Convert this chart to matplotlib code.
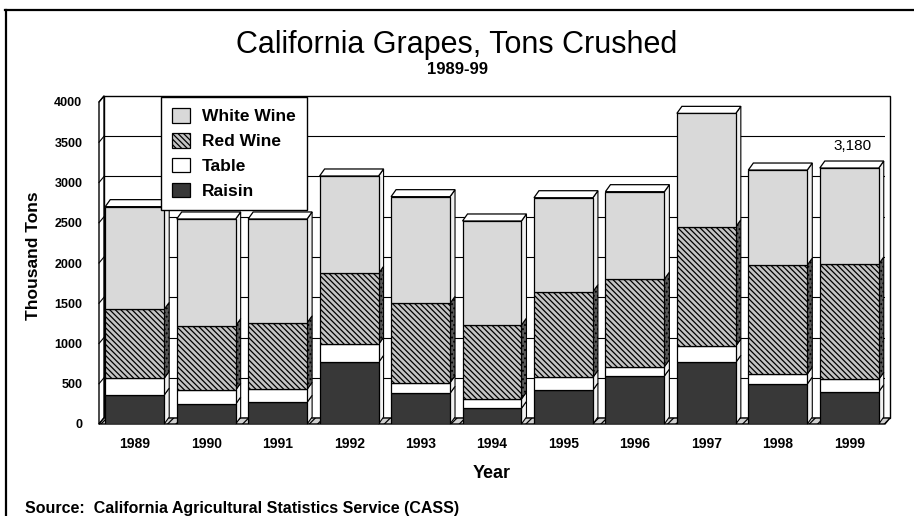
import matplotlib.pyplot as plt
import numpy as np
from matplotlib.patches import Polygon, Rectangle
from matplotlib.lines import Line2D

plt.rcParams['font.family'] = ['Liberation Sans', 'DejaVu Sans']
plt.rcParams['hatch.linewidth'] = 0.9

# data (thousand tons)
years = ['1989', '1990', '1991', '1992', '1993', '1994', '1995', '1996', '1997', '1998', '1999']
raisin = [360, 248, 270, 766, 381, 195, 422, 596, 766, 497, 401]
table = [208, 174, 161, 224, 132, 116, 158, 116, 203, 124, 154]
red_wine = [857, 799, 827, 882, 986, 919, 1064, 1089, 1482, 1354, 1433]
white_wine = [1275, 1326, 1289, 1209, 1325, 1292, 1167, 1085, 1408, 1180, 1192]
y_ticks = [0, 500, 1000, 1500, 2000, 2500, 3000, 3500, 4000]
series_names = ['Raisin', 'Table', 'Red Wine', 'White Wine']

W, H = 914, 516
fig = plt.figure(figsize=(W / 100, H / 100), dpi=100)
ax_l, ax_b, ax_w, ax_h = 99, 516 - 424, 786, 322
ax = fig.add_axes([ax_l / W, ax_b / H, ax_w / W, ax_h / H])
ax.set_xlim(-0.5, 10.5)
ax.set_ylim(0, 4000)

# 3d depth, pixels -> data units
ddx = 5 / (ax_w / 11)
ddy = 7 / (ax_h / 4000)
wdy = 6 / (ax_h / 4000)

x = np.arange(len(years))
bw = 0.825

# back wall, left wall, floor
ax.add_patch(Rectangle((-0.5 + ddx, wdy), 11, 4000, fc='white', ec='black', lw=1, zorder=0, clip_on=False))
ax.hlines(np.array(y_ticks[1:-1]) + wdy, -0.5 + ddx, 10.5 + ddx, color='black', lw=0.8, zorder=0.5)
ax.add_patch(Polygon([(-0.5, 0), (-0.5 + ddx, wdy), (-0.5 + ddx, 4000 + wdy), (-0.5, 4000)],
                     fc='white', ec='black', lw=1, zorder=0.6, clip_on=False))
for yt in y_ticks:
    ax.plot([-0.5, -0.5 + ddx], [yt, yt + wdy], color='black', lw=0.8, zorder=0.7, clip_on=False)
ax.add_patch(Polygon([(-0.5, 0), (10.5, 0), (10.5 + ddx, wdy), (-0.5 + ddx, wdy)],
                     fc='#cfcfcf', ec='black', lw=1, hatch='////', zorder=0.8, clip_on=False))

styles = {
    'Raisin': dict(fc='#383838', side='#f2f2f2', hatch=None),
    'Table': dict(fc='white', side='#f2f2f2', hatch=None),
    'Red Wine': dict(fc='#c4c4c4', side='#5a5a5a', hatch='\\\\\\\\\\\\'),
    'White Wine': dict(fc='#d9d9d9', side='#f0f0f0', hatch=None),
}

handles = {}
bottom = np.zeros(len(years))
for name, vals in zip(series_names, [raisin, table, red_wine, white_wine]):
    vals = np.array(vals, dtype=float)
    st = styles[name]
    bars = ax.bar(x, vals, bw, bottom=bottom, color=st['fc'], edgecolor='black', lw=0.9,
                  hatch=st['hatch'], zorder=3, label=name)
    handles[name] = bars
    for xi, b, v in zip(x, bottom, vals):
        xr = xi + bw / 2
        ax.add_patch(Polygon([(xr, b), (xr + ddx, b + ddy), (xr + ddx, b + v + ddy), (xr, b + v)],
                             fc=st['side'], ec='black', lw=0.8, zorder=2.5,
                             hatch='....' if st['hatch'] else None, clip_on=False))
    bottom = bottom + vals

# top faces
for xi, t in zip(x, bottom):
    xl, xr = xi - bw / 2, xi + bw / 2
    ax.add_patch(Polygon([(xl, t), (xl + ddx, t + ddy), (xr + ddx, t + ddy), (xr, t)],
                         fc='white', ec='black', lw=0.9, zorder=3.5, clip_on=False))

ax.annotate('3,180', xy=(x[-1], bottom[-1]), xytext=(2, 16), textcoords='offset points',
            ha='center', va='center', fontsize=11)

for s in ax.spines.values():
    s.set_visible(False)
ax.set_facecolor('none')
ax.set_yticks(y_ticks)
ax.set_yticklabels([str(v) for v in y_ticks], fontsize=9, fontweight='bold')
ax.set_xticks(x)
ax.set_xticklabels(years, fontsize=10, fontweight='bold')
ax.tick_params(axis='y', length=0, pad=12)
ax.tick_params(axis='x', length=0, pad=9)

fig.text(33 / W, 1 - 256 / H, 'Thousand Tons', ha='center', va='center', rotation=90,
         fontsize=12.5, fontweight='bold')
fig.text(492 / W, 1 - 473 / H, 'Year', ha='center', va='center', fontsize=13, fontweight='bold')

fig.text(457 / W, 1 - 45 / H, 'California Grapes, Tons Crushed', ha='center', va='center', fontsize=22)
fig.text(457 / W, 1 - 70 / H, '1989-99', ha='center', va='center', fontsize=12, fontweight='bold')
fig.text(25 / W, 3 / H, 'Source:  California Agricultural Statistics Service (CASS)',
         ha='left', va='baseline', fontsize=11.5, fontweight='bold')

order = ['White Wine', 'Red Wine', 'Table', 'Raisin']
leg = fig.legend([handles[n] for n in order], order, loc='upper left',
                 bbox_to_anchor=(161 / W, 1 - 97 / H), borderaxespad=0,
                 fancybox=False, framealpha=1, edgecolor='black',
                 prop={'weight': 'bold', 'size': 12.5}, handlelength=1.0, handleheight=0.9,
                 labelspacing=0.5, handletextpad=0.7, borderpad=0.65)
leg.get_frame().set_linewidth(1)
leg.set_zorder(10)

# outer frame
fig.add_artist(Line2D([5 / W, 1], [1 - 10 / H, 1 - 10 / H], color='black', lw=1.6, transform=fig.transFigure))
fig.add_artist(Line2D([6 / W, 6 / W], [0, 1 - 10 / H], color='black', lw=1.6, transform=fig.transFigure))

fig.savefig('out.png', dpi=100)
